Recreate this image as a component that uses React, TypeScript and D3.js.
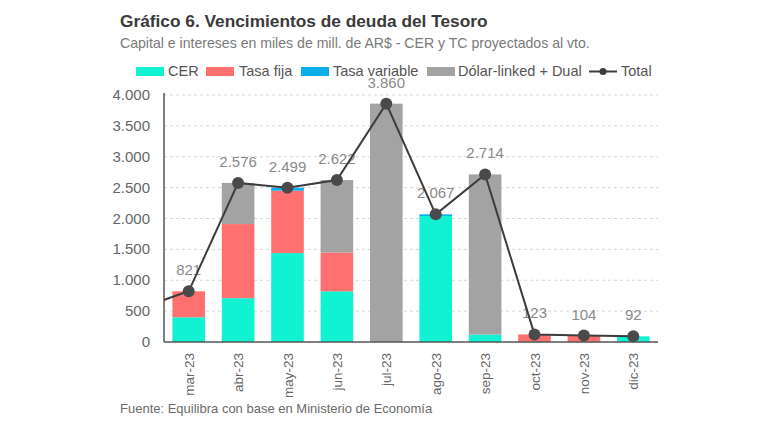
import React from "react";
import * as d3 from "d3";

const months = ["mar-23", "abr-23", "may-23", "jun-23", "jul-23", "ago-23", "sep-23", "oct-23", "nov-23", "dic-23"];
const cer = [400, 710, 1440, 820, 0, 2040, 120, 0, 0, 92];
const tasaFija = [421, 1200, 1010, 630, 0, 0, 0, 123, 104, 0];
const tasaVariable = [0, 0, 49, 0, 0, 27, 0, 0, 0, 0];
const dolarLinked = [0, 666, 0, 1172, 3860, 0, 2594, 0, 0, 0];
const totals = [821, 2576, 2499, 2622, 3860, 2067, 2714, 123, 104, 92];
const prevMonthTotal = 545; // feb-23, only visible as the line entering the chart
const yTicks = [0, 500, 1000, 1500, 2000, 2500, 3000, 3500, 4000];

const seriesKeys = ["cer", "fija", "variable", "dolar"];
const seriesNames = ["CER", "Tasa fija", "Tasa variable", "Dólar-linked + Dual"];
const colors = ["#10F2D2", "#FF7171", "#0AAEE8", "#A3A3A3"];

const fmt = (v: number) => d3.format(",")(v).replace(/,/g, ".");

export default function App() {
  const W = 768, H = 432;
  const left = 164, right = 658, top = 95, bottom = 342;
  const x = d3.scaleBand<string>().domain(months).range([left, right]).paddingInner(0.34).paddingOuter(0.17);
  const y = d3.scaleLinear().domain([0, 4000]).range([bottom, top]);
  const step = x.step();

  const rows = months.map((m, i) => ({ m, cer: cer[i], fija: tasaFija[i], variable: tasaVariable[i], dolar: dolarLinked[i] }));
  const stack = d3.stack<any>().keys(seriesKeys)(rows);

  const cx = (i: number) => (x(months[i]) as number) + x.bandwidth() / 2;
  const linePts: [number, number][] = [[cx(0) - step, y(prevMonthTotal)], ...totals.map((t, i) => [cx(i), y(t)] as [number, number])];
  const line = d3.line()(linePts) as string;

  const font = "'Liberation Sans', Arial, sans-serif";
  const legendItems = [
    { sx: 136, tx: 168 },
    { sx: 206, tx: 239 },
    { sx: 301, tx: 333 },
    { sx: 427, tx: 458 },
  ];

  return (
    <svg width={W} height={H} style={{ position: "absolute", left: 0, top: 0, background: "#fff" }} fontFamily={font}>
      <defs>
        <clipPath id="plot">
          <rect x={left} y={0} width={right - left} height={H} />
        </clipPath>
      </defs>
      <text x={120} y={27} fontSize={17.3} fontWeight="bold" fill="#3a3a3a">Gráfico 6. Vencimientos de deuda del Tesoro</text>
      <text x={120} y={48} fontSize={14.1} fill="#7a7a7a">Capital e intereses en miles de mill. de AR$ - CER y TC proyectados al vto.</text>

      {legendItems.map((l, i) => (
        <g key={i}>
          <rect x={l.sx} y={67} width={28} height={9} fill={colors[i]} />
          <text x={l.tx} y={76} fontSize={14.5} fill="#555">{seriesNames[i]}</text>
        </g>
      ))}
      <line x1={589} x2={617} y1={71.5} y2={71.5} stroke="#3c3c3c" strokeWidth={2} />
      <circle cx={603} cy={71.5} r={3.5} fill="#3c3c3c" />
      <text x={621} y={76} fontSize={14.5} fill="#555">Total</text>

      {yTicks.map((t) => (
        <g key={t}>
          {t > 0 && <line x1={left} x2={right} y1={y(t)} y2={y(t)} stroke="#d6d6d6" strokeDasharray="3,3" />}
          <text x={150} y={y(t) + 5} textAnchor="end" fontSize={15} fill="#666">{fmt(t)}</text>
        </g>
      ))}

      {stack.map((s, si) => (
        <g key={si} fill={colors[si]}>
          {s.map((d, i) => d[1] - d[0] > 0 ? (
            <rect key={i} x={x(months[i])} width={x.bandwidth()} y={y(d[1])} height={y(d[0]) - y(d[1])} />
          ) : null)}
        </g>
      ))}

      <line x1={left} x2={left} y1={top - 2} y2={bottom} stroke="#555" strokeWidth={1.5} />
      <line x1={left} x2={right} y1={bottom} y2={bottom} stroke="#555" strokeWidth={1.5} />

      {totals.map((t, i) => (
        <text key={i} x={cx(i)} y={y(t) - 16} textAnchor="middle" fontSize={15} fill="#8a8a8a">{fmt(t)}</text>
      ))}

      <path d={line} fill="none" stroke="#3c3c3c" strokeWidth={2} clipPath="url(#plot)" />
      {totals.map((t, i) => (
        <circle key={i} cx={cx(i)} cy={y(t)} r={6} fill="#4a4a4a" />
      ))}

      {months.map((m, i) => (
        <text key={m} transform={`translate(${cx(i) + 5},${bottom + 11}) rotate(-90)`} textAnchor="end" fontSize={13.5} fill="#666">{m}</text>
      ))}

      <text x={120} y={413} fontSize={13} fill="#6a6a6a">Fuente: Equilibra con base en Ministerio de Economía</text>
    </svg>
  );
}
